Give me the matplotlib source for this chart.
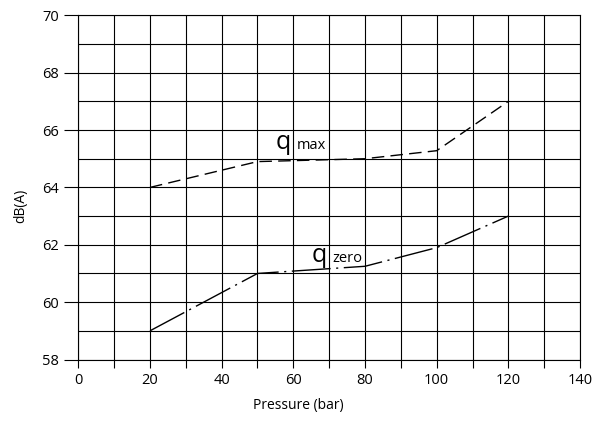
import matplotlib
matplotlib.use("Agg")
import matplotlib.pyplot as plt
from matplotlib.ticker import MultipleLocator

plt.rcParams["font.family"] = ["Open Sans", "DejaVu Sans"]

pressure = [20, 50, 80, 100, 120]
q_max = [64.0, 64.9, 65.0, 65.28, 67.0]
q_zero = [59.0, 61.0, 61.25, 61.9, 63.0]


def main():
    fig = plt.figure(figsize=(5.96, 4.29), dpi=100)
    ax = fig.add_axes([0.1314, 0.162, 0.8418, 0.8023])

    ax.plot(pressure, q_max, color="black", lw=1.0, dashes=(9, 4.5))
    ax.plot(pressure, q_zero, color="black", lw=1.0, dashes=(28, 4, 1.5, 4))

    ax.set_xlim(0, 140)
    ax.set_ylim(58, 70)
    ax.xaxis.set_major_locator(MultipleLocator(20))
    ax.xaxis.set_minor_locator(MultipleLocator(10))
    ax.yaxis.set_major_locator(MultipleLocator(2))
    ax.yaxis.set_minor_locator(MultipleLocator(1))

    ax.grid(True, which="both", color="black", lw=0.8)
    ax.set_axisbelow(True)
    for sp in ax.spines.values():
        sp.set_color("black")
        sp.set_linewidth(0.8)

    ax.tick_params(axis="x", which="both", direction="out", length=5.8,
                   width=0.8, labelsize=10.5, pad=4)
    ax.tick_params(axis="y", which="major", direction="out", length=10,
                   width=0.8, labelsize=10.5, pad=4)
    ax.tick_params(axis="y", which="minor", length=0)

    ax.set_xlabel("Pressure (bar)", fontsize=10)
    ax.set_ylabel("dB(A)", fontsize=10)
    ax.xaxis.set_label_coords(0.438, -0.112)
    ax.yaxis.set_label_coords(-0.1, 0.446)

    # curve labels: a big "q" with the subscript on the other side of a grid line
    ax.text(59.4, 65.33, "q", fontsize=18, ha="right", va="baseline")
    ax.text(61.0, 65.33, "max", fontsize=10.5, ha="left", va="baseline")
    ax.text(69.3, 61.41, "q", fontsize=18, ha="right", va="baseline")
    ax.text(70.9, 61.41, "zero", fontsize=10.5, ha="left", va="baseline")

    fig.savefig("out.png", dpi=100)


if __name__ == "__main__":
    main()
